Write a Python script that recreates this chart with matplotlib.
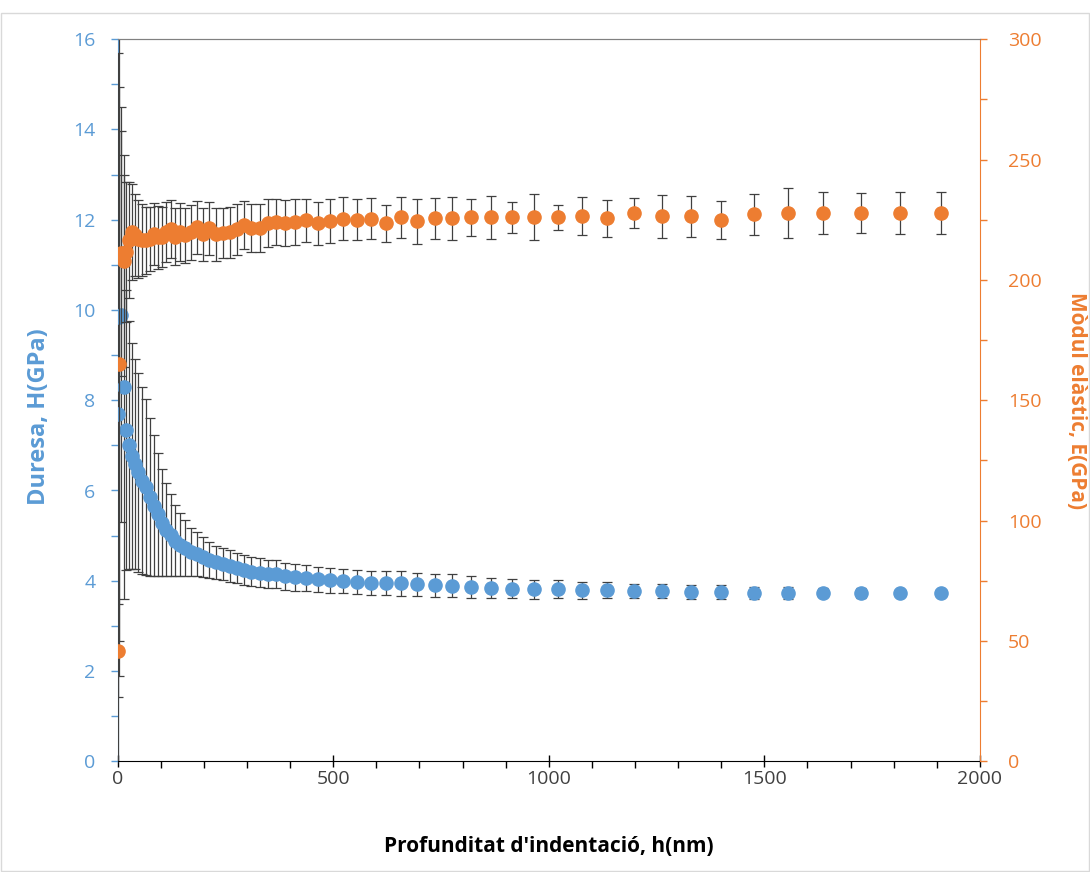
import matplotlib

matplotlib.use("Agg")
import matplotlib.pyplot as plt
from matplotlib.ticker import MultipleLocator

plt.rcParams["font.family"] = ["Open Sans", "DejaVu Sans"]

BLUE = "#5B9BD5"
ORANGE = "#ED7D31"
BAR = "#404040"

# indentation depth, nm
depth = [1, 3, 8, 14, 20, 27, 34, 41, 48, 56, 65, 74, 83, 93, 103, 113, 123, 134, 145, 157,
         170, 183, 197, 212, 228, 244, 260, 276, 292, 310, 329, 348, 366, 387, 411, 437, 464,
         492, 522, 554, 588, 622, 657, 694, 735, 776, 819, 865, 915, 966, 1021, 1077, 1136,
         1197, 1262, 1330, 1400, 1476, 1554, 1637, 1724, 1814, 1909]

# hardness H, GPa
hardness = [7.69, 9.84, 9.90, 8.29, 7.34, 7.00, 6.76, 6.58, 6.40, 6.22, 6.07, 5.85, 5.66, 5.47,
            5.29, 5.13, 5.01, 4.89, 4.80, 4.72, 4.64, 4.59, 4.52, 4.46, 4.41, 4.37, 4.33, 4.28,
            4.23, 4.20, 4.18, 4.16, 4.14, 4.10, 4.08, 4.07, 4.03, 4.01, 3.99, 3.97, 3.95, 3.95,
            3.94, 3.92, 3.90, 3.89, 3.86, 3.84, 3.82, 3.81, 3.81, 3.79, 3.79, 3.77, 3.77, 3.75,
            3.75, 3.73, 3.73, 3.73, 3.72, 3.72, 3.72]
hardness_err = [8.0, 7.94, 4.6, 4.7, 3.1, 2.75, 2.5, 2.33, 2.2, 2.07, 1.95, 1.75, 1.56, 1.37,
                1.19, 1.03, 0.91, 0.79, 0.7, 0.62, 0.54, 0.49, 0.44, 0.4, 0.37, 0.36, 0.35,
                0.34, 0.33, 0.32, 0.32, 0.31, 0.31, 0.3, 0.3, 0.29, 0.28, 0.28, 0.27, 0.27,
                0.26, 0.26, 0.27, 0.26, 0.26, 0.25, 0.24, 0.22, 0.21, 0.21, 0.2, 0.19, 0.18,
                0.16, 0.16, 0.16, 0.15, 0.14, 0.13, 0.1, 0.11, 0.05, 0.05]

# elastic modulus E, GPa
modulus = [46, 165, 211, 208, 211.5, 216.5, 219.8, 218.5, 217, 216.5, 216.5, 217, 219, 217.7,
           217.7, 219.8, 221, 218, 219.8, 218.5, 219.8, 221.8, 219, 221.4, 219, 219.4, 219.8,
           221, 222.7, 221.4, 221.4, 223.5, 224, 223.5, 224, 224.8, 223.5, 224.5, 225.5, 225,
           225.5, 223.5, 226, 224.4, 225.6, 225.6, 226, 226, 226, 226, 226, 226.4, 225.6,
           227.7, 226.4, 226.4, 225, 227.2, 227.9, 227.7, 227.7, 227.7, 227.7]
modulus_err = [19.5, 115, 51, 44, 29, 24, 20, 17, 16, 15, 14, 13.5, 13, 13, 12.5, 12.5, 12,
               12, 12, 11.5, 11.5, 11, 11, 11, 11, 10.5, 10.5, 10.5, 10, 10, 10, 10, 9.5, 9.5,
               9.5, 9, 9, 9, 9, 8.5, 8.5, 7.7, 8.5, 9.3, 8.5, 9, 7.7, 9, 6.4, 9.5, 5.2, 7.9,
               7.8, 6.2, 9, 8.4, 7.8, 8.7, 10.4, 8.8, 8.3, 8.8, 8.7]


def main() -> None:
    fig = plt.figure(figsize=(10.9, 8.72), dpi=100)
    ax = fig.add_axes([0.108, 0.127, 0.791, 0.828])
    ax2 = ax.twinx()

    ax.errorbar(depth, hardness, yerr=hardness_err, fmt="o", color=BLUE, ms=9.5, mec=BLUE,
                ecolor=BAR, elinewidth=0.9, capsize=3.5, capthick=0.9, zorder=3)
    ax2.errorbar(depth, modulus, yerr=modulus_err, fmt="o", color=ORANGE, ms=9.5, mec=ORANGE,
                 ecolor=BAR, elinewidth=0.9, capsize=3.5, capthick=0.9, zorder=3)

    ax.set_xlim(0, 2000)
    ax.set_ylim(0, 16)
    ax2.set_ylim(0, 300)

    ax.xaxis.set_major_locator(MultipleLocator(500))
    ax.xaxis.set_minor_locator(MultipleLocator(100))
    ax.yaxis.set_major_locator(MultipleLocator(2))
    ax.yaxis.set_minor_locator(MultipleLocator(1))
    ax2.yaxis.set_major_locator(MultipleLocator(50))
    ax2.yaxis.set_minor_locator(MultipleLocator(25))

    ax.tick_params(axis="x", which="major", direction="inout", length=9, width=1,
                   color="black", labelsize=14, labelcolor="#404040", pad=2)
    ax.tick_params(axis="x", which="minor", direction="out", length=5, width=1, color="black")
    ax.tick_params(axis="y", which="both", direction="out", length=5, width=1, color=BLUE,
                   labelsize=14, labelcolor=BLUE, pad=11)
    ax2.tick_params(axis="y", which="both", direction="out", length=5, width=1, color=ORANGE,
                    labelsize=14, labelcolor=ORANGE, pad=15)

    ax.spines["left"].set_color(BLUE)
    ax.spines["bottom"].set_color("black")
    ax.spines["top"].set_color("#808080")
    ax.spines["right"].set_visible(False)
    ax2.spines["right"].set_color(ORANGE)
    ax2.spines["left"].set_visible(False)
    ax2.spines["top"].set_color("#808080")
    ax2.spines["bottom"].set_visible(False)

    ax.set_xlabel("Profunditat d'indentació, h(nm)", fontsize=15, fontweight="bold",
                  color="black", labelpad=34)
    ax.set_ylabel("Duresa, H(GPa)", fontsize=17, fontweight="bold", color=BLUE)
    ax.yaxis.set_label_coords(-0.077, 0.478)
    ax2.set_ylabel("Mòdul elàstic, E(GPa)", fontsize=15, fontweight="bold", color=ORANGE,
                   rotation=270, labelpad=33)

    fig.patches.append(plt.Rectangle((0.001, 0.001), 0.998, 0.984, transform=fig.transFigure,
                                     fill=False, edgecolor="#D9D9D9", lw=1))

    fig.savefig("out.png", dpi=100)
    plt.close(fig)


if __name__ == "__main__":
    main()
